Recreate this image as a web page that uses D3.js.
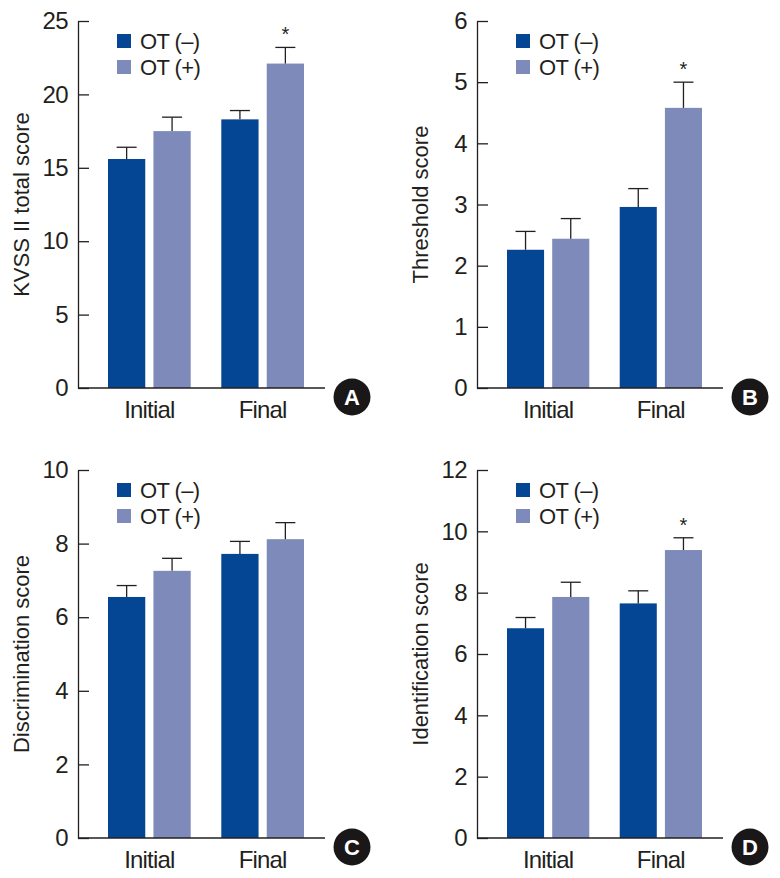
<!DOCTYPE html>
<html>
<head>
<meta charset="utf-8">
<script src="https://cdn.jsdelivr.net/npm/d3@7"></script>
<style>
  body { margin: 0; background: #fff; }
  text { font-family: 'Liberation Sans', Arial, sans-serif; }
</style>
</head>
<body>
<div id="chart"></div>
<script>
// categories and series
const groups = ['Initial', 'Final']
const seriesNames = ['OT (–)', 'OT (+)']
const seriesColors = ['#054694', '#7e8aba']

// A: KVSS II total score
const kvssNeg = [15.6, 18.3]
const kvssNegErr = [0.8, 0.6]
const kvssPos = [17.5, 22.1]
const kvssPosErr = [0.95, 1.1]
const kvssTicks = [0, 5, 10, 15, 20, 25]

// B: Threshold score
const thrNeg = [2.26, 2.96]
const thrNegErr = [0.3, 0.3]
const thrPos = [2.44, 4.58]
const thrPosErr = [0.33, 0.42]
const thrTicks = [0, 1, 2, 3, 4, 5, 6]

// C: Discrimination score
const disNeg = [6.55, 7.72]
const disNegErr = [0.31, 0.34]
const disPos = [7.26, 8.12]
const disPosErr = [0.34, 0.45]
const disTicks = [0, 2, 4, 6, 8, 10]

// D: Identification score
const idNeg = [6.84, 7.65]
const idNegErr = [0.35, 0.41]
const idPos = [7.86, 9.39]
const idPosErr = [0.48, 0.4]
const idTicks = [0, 2, 4, 6, 8, 10, 12]

const panels = [
  { letter: 'A', label: 'KVSS II total score', neg: kvssNeg, negErr: kvssNegErr, pos: kvssPos, posErr: kvssPosErr,
    ticks: kvssTicks, star: [false, true], x0: 78, x1: 325, top: 21, bottom: 388 },
  { letter: 'B', label: 'Threshold score', neg: thrNeg, negErr: thrNegErr, pos: thrPos, posErr: thrPosErr,
    ticks: thrTicks, star: [false, true], x0: 477, x1: 723, top: 21, bottom: 388 },
  { letter: 'C', label: 'Discrimination score', neg: disNeg, negErr: disNegErr, pos: disPos, posErr: disPosErr,
    ticks: disTicks, star: [false, false], x0: 78, x1: 325, top: 470, bottom: 838 },
  { letter: 'D', label: 'Identification score', neg: idNeg, negErr: idNegErr, pos: idPos, posErr: idPosErr,
    ticks: idTicks, star: [false, true], x0: 477, x1: 723, top: 470, bottom: 838 }
]

const svg = d3.select('#chart').append('svg')
  .attr('width', 780)
  .attr('height', 878)

const ink = '#231f20'

panels.forEach(p => {
  const g = svg.append('g')

  const y = d3.scaleLinear()
    .domain([0, d3.max(p.ticks)])
    .range([p.bottom, p.top])

  const x = d3.scaleBand()
    .domain(groups)
    .range([p.x0 + 30, p.x1 - 21])
    .paddingInner(0.27)
    .paddingOuter(0)

  const xs = d3.scaleBand()
    .domain([0, 1])
    .range([0, x.bandwidth()])
    .paddingInner(0.18)

  const rows = []
  groups.forEach((grp, i) => {
    rows.push({ grp, s: 0, v: p.neg[i], e: p.negErr[i], star: false })
    rows.push({ grp, s: 1, v: p.pos[i], e: p.posErr[i], star: p.star[i] })
  })

  const cx = d => x(d.grp) + xs(d.s) + xs.bandwidth() / 2

  // bars
  g.selectAll('.bar')
    .data(rows).enter()
    .append('rect')
    .attr('x', d => x(d.grp) + xs(d.s))
    .attr('y', d => y(d.v))
    .attr('width', xs.bandwidth())
    .attr('height', d => y(0) - y(d.v))
    .attr('fill', d => seriesColors[d.s])

  // error bars
  g.selectAll('.err')
    .data(rows).enter()
    .append('line')
    .attr('x1', cx).attr('x2', cx)
    .attr('y1', d => y(d.v)).attr('y2', d => y(d.v + d.e))
    .attr('stroke', ink).attr('stroke-width', 1.3)

  g.selectAll('.cap')
    .data(rows).enter()
    .append('line')
    .attr('x1', d => cx(d) - 10).attr('x2', d => cx(d) + 10)
    .attr('y1', d => y(d.v + d.e)).attr('y2', d => y(d.v + d.e))
    .attr('stroke', ink).attr('stroke-width', 1.3)

  // significance stars
  g.selectAll('.star')
    .data(rows.filter(d => d.star)).enter()
    .append('text')
    .attr('x', cx)
    .attr('y', d => y(d.v + d.e) - 6)
    .attr('text-anchor', 'middle')
    .attr('font-size', 20)
    .attr('fill', ink)
    .text('*')

  // y axis
  const yAxis = g.append('g')
    .attr('transform', `translate(${p.x0},0)`)
    .call(d3.axisLeft(y).tickValues(p.ticks).tickFormat(d3.format('d'))
      .tickSizeInner(-11).tickSizeOuter(0).tickPadding(10))
  yAxis.select('.domain').attr('stroke', ink).attr('stroke-width', 1.3)
  yAxis.selectAll('.tick line').attr('stroke', ink).attr('stroke-width', 1.3)
  yAxis.selectAll('.tick text')
    .attr('font-size', 24)
    .attr('letter-spacing', -0.6)
    .attr('fill', ink)
    .attr('font-family', "'Liberation Sans', Arial, sans-serif")

  // x axis line and labels
  g.append('line')
    .attr('x1', p.x0).attr('x2', p.x1)
    .attr('y1', y(0)).attr('y2', y(0))
    .attr('stroke', ink).attr('stroke-width', 1.3)

  g.selectAll('.xlab')
    .data(groups).enter()
    .append('text')
    .attr('x', d => x(d) + x.bandwidth() / 2)
    .attr('y', y(0) + 30)
    .attr('text-anchor', 'middle')
    .attr('font-size', 24)
    .attr('letter-spacing', -0.8)
    .attr('fill', ink)
    .text(d => d)

  // y label
  g.append('text')
    .attr('transform', `translate(${p.x0 - 49},${(p.top + p.bottom) / 2}) rotate(-90)`)
    .attr('text-anchor', 'middle')
    .attr('font-size', 22)
    .attr('fill', ink)
    .text(p.label)

  // legend
  const leg = g.selectAll('.leg')
    .data(seriesNames).enter()
    .append('g')
    .attr('transform', (d, i) => `translate(${p.x0 + 39},${p.top + 13 + i * 26})`)
  leg.append('rect')
    .attr('width', 14).attr('height', 14)
    .attr('fill', (d, i) => seriesColors[i])
  leg.append('text')
    .attr('x', 23)
    .attr('y', 15)
    .attr('font-size', 22)
    .attr('letter-spacing', -0.6)
    .attr('fill', ink)
    .text(d => d)

  // panel letter
  g.append('circle')
    .attr('cx', p.x1 + 27).attr('cy', p.bottom + 9)
    .attr('r', 18.5)
    .attr('fill', '#1a1718')
  g.append('text')
    .attr('x', p.x1 + 27).attr('y', p.bottom + 17)
    .attr('text-anchor', 'middle')
    .attr('font-size', 22)
    .attr('font-weight', 'bold')
    .attr('fill', '#fff')
    .text(p.letter)
})
</script>
</body>
</html>
